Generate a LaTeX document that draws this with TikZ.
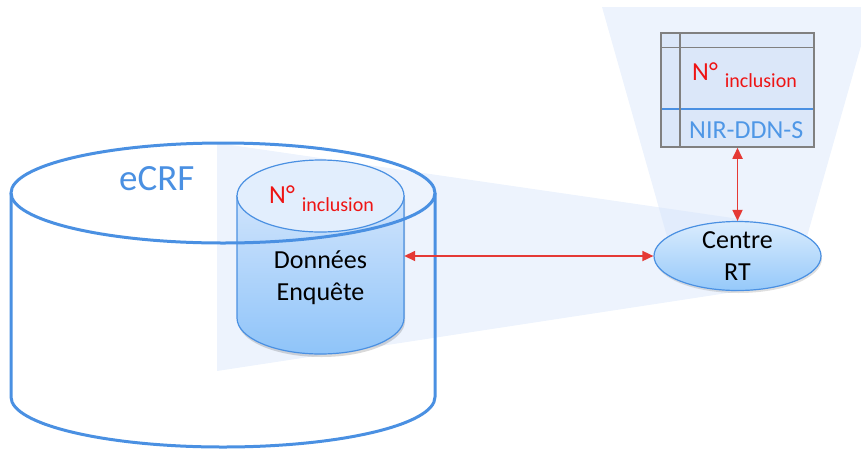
\documentclass[tikz,border=0pt]{standalone}
\usepackage{fontspec}
\setmainfont{Carlito}
\usetikzlibrary{arrows.meta,shapes.geometric,shadows}

\definecolor{ecrfblue}{RGB}{74,144,226}
\definecolor{linkred}{RGB}{229,57,53}
\definecolor{veilblue}{RGB}{214,228,250}
\definecolor{cyltop}{RGB}{226,238,253}
\definecolor{cylhi}{RGB}{208,228,252}
\definecolor{cyllo}{RGB}{143,196,249}
\definecolor{ellhi}{RGB}{218,236,253}
\definecolor{elllo}{RGB}{150,201,250}
\definecolor{tblfill}{RGB}{219,231,249}
\definecolor{tblline}{RGB}{128,128,128}
\definecolor{incred}{RGB}{238,20,20}
\definecolor{nirblue}{RGB}{79,151,230}

\begin{document}
\begin{tikzpicture}[x=1pt,y=-1pt,
  veil/.style={fill=veilblue, fill opacity=0.45, draw=none},
  link/.style={draw=linkred, line width=1.7pt,
    {Triangle[length=11pt,width=10pt]}-{Triangle[length=11pt,width=10pt]}},
  bigtxt/.style={font=\fontsize{26}{32}\selectfont},
  inctxt/.style={text=incred, font=\fontsize{26}{30}\selectfont, anchor=base west, inner sep=0pt},
  gridline/.style={draw=tblline, line width=1.5pt}
]
\useasboundingbox (0,0) rectangle (861,448);
\clip (0,0) rectangle (861,448);

% translucent projection veils
\path[veil] (217,143) -- (760,222) -- (760,288) -- (217,371) -- cycle;
\path[veil] (602,7) -- (872,7) -- (806,240) -- (668,240) -- cycle;

% survey data cylinder: soft shadow, body, top face
\fill[black, opacity=0.15] (238,199) -- (238,321)
  arc[start angle=180, end angle=0, x radius=83.5, y radius=36] -- (405,199) -- cycle;
\shade[top color=cylhi, bottom color=cyllo, draw=ecrfblue, line width=1.2pt]
  (237,196) -- (237,318)
  arc[start angle=180, end angle=0, x radius=83.5, y radius=36] -- (404,196) -- cycle;
\filldraw[fill=cyltop, draw=ecrfblue, line width=1.2pt]
  (320.5,196) ellipse[x radius=83.5, y radius=36];
\node[draw=none, minimum width=167pt, minimum height=120pt, inner sep=0pt] (db) at (320.5,256) {};
\node[inctxt] (dbinc) at (269,203) {N°\hspace{7pt}\raisebox{-8pt}{\fontsize{20}{24}\selectfont inclusion}};
\node[bigtxt, anchor=base] (dbline1) at (320.5,268) {Données};
\node[bigtxt, anchor=base] (dbline2) at (320.5,300) {Enquête};

% eCRF outer cylinder (outline only)
\draw[ecrfblue, line width=3pt] (223,193) ellipse[x radius=212, y radius=50];
\draw[ecrfblue, line width=3pt] (11,193) -- (11,397)
  arc[start angle=180, end angle=0, x radius=212, y radius=50] -- (435,193);
\node[anchor=base west, text=ecrfblue, font=\fontsize{37}{44}\selectfont, inner sep=0pt] (ecrf) at (119,190) {eCRF};

% Centre RT
\node[ellipse, minimum width=167pt, minimum height=69pt, inner sep=0pt,
  draw=ecrfblue, line width=1.2pt, top color=ellhi, bottom color=elllo,
  drop shadow={shadow xshift=1pt, shadow yshift=-2.5pt, opacity=0.25}] (centre) at (737.5,256) {};
\node[bigtxt, anchor=base] (centre1) at (737.5,248) {Centre};
\node[bigtxt, anchor=base] (centre2) at (737.5,280) {RT};

% identity table
\node[gridline, fill=tblfill, minimum width=153pt, minimum height=114pt, inner sep=0pt] (tbl) at (737.5,90) {};
\draw[gridline] (661,47.5) -- (814,47.5);
\draw[gridline] (680,33) -- (680,147);
\draw[ecrfblue, line width=1.2pt] (661.8,109) -- (679.2,109);
\draw[ecrfblue, line width=1.2pt] (680.8,109) -- (813.2,109);
\node[inctxt] (tblinc) at (692,80) {N°\hspace{7pt}\raisebox{-7pt}{\fontsize{20}{24}\selectfont inclusion}};
\node[bigtxt, text=nirblue, anchor=base west, inner sep=0pt] (nir) at (689,138.5) {NIR-DDN-S};

% links
\draw[link] (db.east) -- (centre.west);
\draw[link] (tbl.south) -- (centre.north);
\end{tikzpicture}
\end{document}
